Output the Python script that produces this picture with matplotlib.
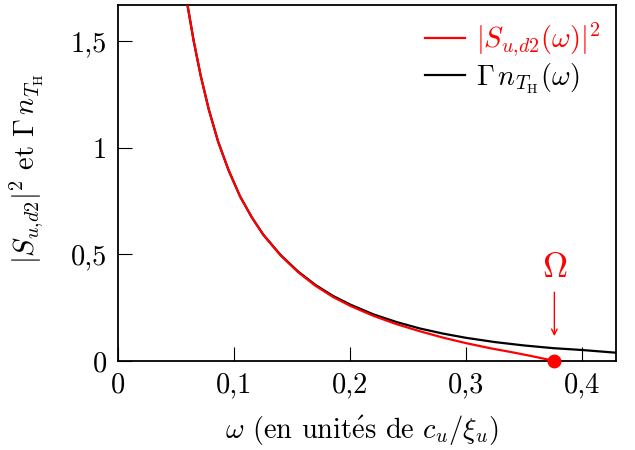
import matplotlib
matplotlib.use('Agg')
import matplotlib.pyplot as plt

plt.rcParams['font.family'] = 'serif'
plt.rcParams['font.serif'] = ['cmr10']
plt.rcParams['mathtext.fontset'] = 'cm'
plt.rcParams['axes.unicode_minus'] = False

# courbe noire : Gamma n_TH(omega)
omega_n = [0.057, 0.0598, 0.065, 0.071, 0.078, 0.086, 0.095, 0.105, 0.115, 0.125,
           0.14, 0.155, 0.17, 0.185, 0.20, 0.22, 0.24, 0.26, 0.28, 0.30,
           0.325, 0.35, 0.375, 0.40, 0.43]
n_vals = [1.763, 1.664, 1.500, 1.338, 1.179, 1.029, 0.895, 0.771, 0.674, 0.592,
          0.496, 0.419, 0.356, 0.305, 0.264, 0.218, 0.182, 0.152, 0.128, 0.108,
          0.088, 0.0723, 0.0597, 0.051, 0.038]

# courbe rouge : |S_{u,d2}(omega)|^2
omega_s = [0.057, 0.0598, 0.065, 0.071, 0.078, 0.086, 0.095, 0.105, 0.115, 0.125,
           0.14, 0.155, 0.17, 0.185, 0.20, 0.22, 0.24, 0.26, 0.28, 0.30,
           0.32, 0.34, 0.355, 0.3759]
s_vals = [1.763, 1.664, 1.500, 1.338, 1.179, 1.029, 0.895, 0.771, 0.674, 0.591,
          0.494, 0.416, 0.352, 0.300, 0.258, 0.211, 0.172, 0.139, 0.109, 0.083,
          0.060, 0.040, 0.024, 0.0]

Omega = 0.3759

xticks = [0, 0.1, 0.2, 0.3, 0.4]
xlabels = ['0', '0,1', '0,2', '0,3', '0,4']
yticks = [0, 0.5, 1, 1.5]
ylabels = ['0', '0,5', '1', '1,5']

fs = 20.5

fig = plt.figure(figsize=(6.35, 4.5), dpi=100)
ax = fig.add_axes([0.1863, 0.198, 0.7837, 0.790])

ax.plot(omega_n, n_vals, color='black', lw=1.6, label=r'$\Gamma\, n_{T_{\mathrm{H}}}(\omega)$', zorder=2)
ax.plot(omega_s, s_vals, color='red', lw=1.6, label=r'$|S_{u{,}d2}(\omega)|^2$', zorder=3)
ax.plot([Omega], [0], 'o', color='red', ms=9, zorder=4, clip_on=False)

ax.annotate('', xy=(Omega, 0.103), xytext=(Omega, 0.335),
            arrowprops=dict(arrowstyle='->', color='red', lw=1.0))
ax.text(Omega, 0.433, r'$\Omega$', color='red', fontsize=25, ha='center', va='center')

ax.set_xlim(0, 0.429)
ax.set_ylim(0, 1.667)
ax.set_xticks(xticks)
ax.set_xticklabels(xlabels)
ax.set_yticks(yticks)
ax.set_yticklabels(ylabels)
ax.tick_params(direction='in', length=10, width=0.8, labelsize=fs, pad=8)
for s in ax.spines.values():
    s.set_linewidth(1.3)

ax.set_xlabel(r'$\omega$ (en unit$\mathrm{\acute{e}}$s de $c_u/\xi_u$)', fontsize=fs)
ax.set_ylabel(r'$|S_{u{,}d2}|^2$ et $\Gamma\, n_{T_{\mathrm{H}}}$', fontsize=fs)
ax.xaxis.set_label_coords(0.49, -0.15)
ax.yaxis.set_label_coords(-0.145, 0.54)

handles, labels = ax.get_legend_handles_labels()
leg = ax.legend(handles[::-1], labels[::-1], loc='upper right', frameon=False,
                fontsize=fs, handlelength=1.4, handletextpad=0.4,
                labelspacing=0.1, borderaxespad=0.15, labelcolor='linecolor')

fig.savefig('out.png', dpi=100)
